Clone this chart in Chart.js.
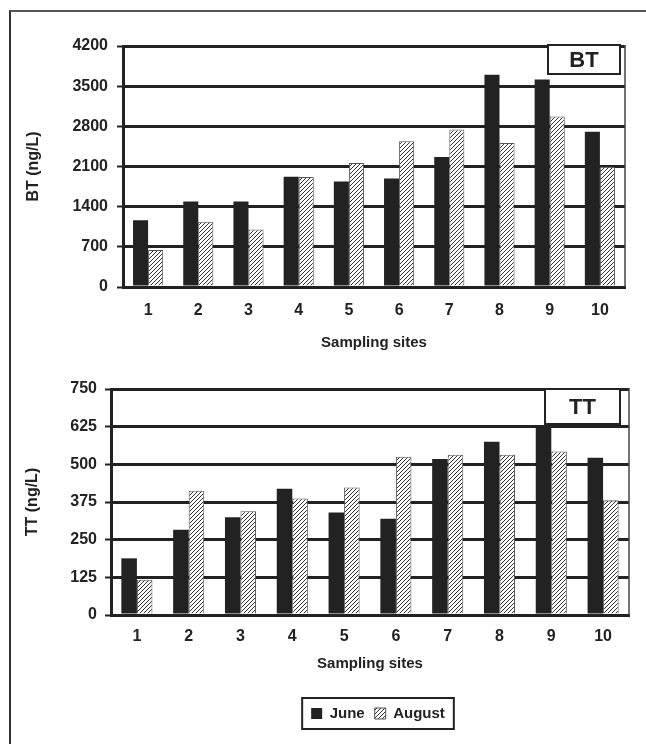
<!DOCTYPE html>
<html>
<head>
<meta charset="utf-8">
<script src="https://cdn.jsdelivr.net/npm/chart.js@4.4.0/dist/chart.umd.min.js"></script>
<style>
body { margin: 0; background: #fff; }
#page { position: relative; width: 646px; height: 744px; overflow: hidden; }
#frame { position: absolute; left: 9px; top: 10px; width: 650px; height: 750px; border-top: 2px solid #555; border-left: 2px solid #333; }
.box { position: absolute; left: 12px; width: 624px; }
#top { top: 20px; height: 340px; }
#bottom { top: 365px; height: 375px; }
</style>
</head>
<body>
<div id="page">
  <div id="frame"></div>
  <div class="box" id="top"><canvas id="btChart"></canvas></div>
  <div class="box" id="bottom"><canvas id="ttChart"></canvas></div>
</div>
<script>
// --- data ---
const sites = ['1', '2', '3', '4', '5', '6', '7', '8', '9', '10'];
const btJune = [1165, 1490, 1490, 1920, 1840, 1890, 2265, 3700, 3615, 2705];
const btAugust = [645, 1135, 1000, 1915, 2160, 2540, 2745, 2510, 2970, 2095];
const ttJune = [188, 283, 324, 419, 340, 319, 518, 575, 630, 522];
const ttAugust = [117, 412, 344, 387, 423, 525, 532, 532, 543, 381];
const btMax = 4200, btStep = 700;
const ttMax = 750, ttStep = 125;

const INK = '#222';
Chart.defaults.font.family = "'Liberation Sans', Arial, sans-serif";
Chart.defaults.color = INK;

// diagonal hatch used for August
function makeHatch() {
    const c = document.createElement('canvas');
    c.width = 4; c.height = 4;
    const x = c.getContext('2d');
    x.fillStyle = '#fff';
    x.fillRect(0, 0, 4, 4);
    x.strokeStyle = '#333';
    x.lineWidth = 1;
    x.beginPath();
    x.moveTo(0, 4); x.lineTo(4, 0);
    x.moveTo(-1, 1); x.lineTo(1, -1);
    x.moveTo(3, 5); x.lineTo(5, 3);
    x.stroke();
    return x.createPattern(c, 'repeat');
}
const hatch = makeHatch();

// right edge of the plot + the little "BT"/"TT" tag
const frameBits = {
    id: 'frameBits',
    afterDraw(chart, args, opts) {
        const ctx = chart.ctx;
        const a = chart.chartArea;
        ctx.save();
        ctx.strokeStyle = '#444';
        ctx.lineWidth = 1.5;
        ctx.beginPath();
        ctx.moveTo(a.right, a.top - 1);
        ctx.lineTo(a.right, a.bottom);
        ctx.stroke();

        const x = a.right - opts.right - opts.w;
        const y = a.top + opts.top;
        ctx.fillStyle = '#fff';
        ctx.fillRect(x, y, opts.w, opts.h);
        ctx.strokeStyle = INK;
        ctx.lineWidth = 2;
        ctx.strokeRect(x, y, opts.w, opts.h);
        ctx.fillStyle = INK;
        ctx.font = "bold 22px 'Liberation Sans', Arial, sans-serif";
        ctx.textAlign = 'center';
        ctx.textBaseline = 'middle';
        ctx.fillText(opts.text, x + opts.w / 2, y + opts.h / 2 + 1);
        ctx.restore();
    }
};

// nudge the legend right a bit and put a border round it
const legendFrame = {
    id: 'legendFrame',
    afterLayout(chart) {
        const lg = chart.legend;
        if (lg) { lg.left += 8; lg.right += 8; }
    },
    afterDraw(chart) {
        const boxes = chart.legend && chart.legend.legendHitBoxes;
        if (!boxes || !boxes.length) return;
        let l = Infinity, r = -Infinity, t = Infinity, b = -Infinity;
        boxes.forEach(h => {
            l = Math.min(l, h.left); r = Math.max(r, h.left + h.width);
            t = Math.min(t, h.top); b = Math.max(b, h.top + h.height);
        });
        const ctx = chart.ctx;
        ctx.save();
        ctx.strokeStyle = INK;
        ctx.lineWidth = 2;
        ctx.strokeRect(l - 9, t - 8, r - l + 18, b - t + 16);
        ctx.restore();
    }
};

function yAxis(max, step, title, tickPad, titlePad, width) {
    return {
        min: 0, max: max,
        ticks: { stepSize: step, padding: tickPad, color: INK, font: { size: 16, weight: 'bold' },
                 callback: v => String(v) },
        grid: { color: INK, lineWidth: 3, tickLength: 6, tickWidth: 2, tickColor: INK },
        border: { color: INK, width: 3 },
        title: { display: true, text: title, color: INK, font: { size: 16, weight: 'bold' }, padding: { top: titlePad, bottom: titlePad } },
        afterFit(s) { s.width = width; }
    };
}

function xAxis(tickPad, titlePad, height) {
    return {
        grid: { display: false, drawTicks: false },
        border: { display: true, color: INK, width: 3 },
        ticks: { padding: tickPad, color: INK, font: { size: 16, weight: 'bold' }, maxRotation: 0 },
        title: { display: true, text: 'Sampling sites', color: INK, font: { size: 15, weight: 'bold' }, padding: { top: titlePad, bottom: titlePad } },
        afterFit(s) { s.height = height; }
    };
}

function datasets(june, august) {
    return [
        { label: 'June', data: june, backgroundColor: INK, borderWidth: 0,
          categoryPercentage: 0.6, barPercentage: 1 },
        { label: 'August', data: august, backgroundColor: hatch, borderColor: '#555', borderWidth: 1,
          categoryPercentage: 0.6, barPercentage: 1 }
    ];
}

new Chart(document.getElementById('btChart'), {
    type: 'bar',
    data: { labels: sites, datasets: datasets(btJune, btAugust) },
    options: {
        responsive: true, maintainAspectRatio: false, animation: false,
        layout: { padding: { top: 26, right: 11, left: 0, bottom: 0 } },
        scales: {
            x: xAxis(14, 8, 73),
            y: yAxis(btMax, btStep, 'BT (ng/L)', 9, 12, 111)
        },
        plugins: {
            legend: { display: false },
            tooltip: { enabled: false },
            frameBits: { text: 'BT', right: 5, w: 72, h: 29, top: -1 }
        }
    },
    plugins: [frameBits]
});

new Chart(document.getElementById('ttChart'), {
    type: 'bar',
    data: { labels: sites, datasets: datasets(ttJune, ttAugust) },
    options: {
        responsive: true, maintainAspectRatio: false, animation: false,
        layout: { padding: { top: 24, right: 7, left: 0, bottom: 9 } },
        scales: {
            x: xAxis(12, 23, 81),
            y: yAxis(ttMax, ttStep, 'TT (ng/L)', 8, 11, 99)
        },
        plugins: {
            legend: {
                position: 'bottom', fullSize: false,
                labels: { color: INK, font: { size: 15, weight: 'bold' }, boxWidth: 11, boxHeight: 11, padding: 10 }
            },
            tooltip: { enabled: false },
            frameBits: { text: 'TT', right: 9, w: 75, h: 35, top: 0 }
        }
    },
    plugins: [frameBits, legendFrame]
});
</script>
</body>
</html>
